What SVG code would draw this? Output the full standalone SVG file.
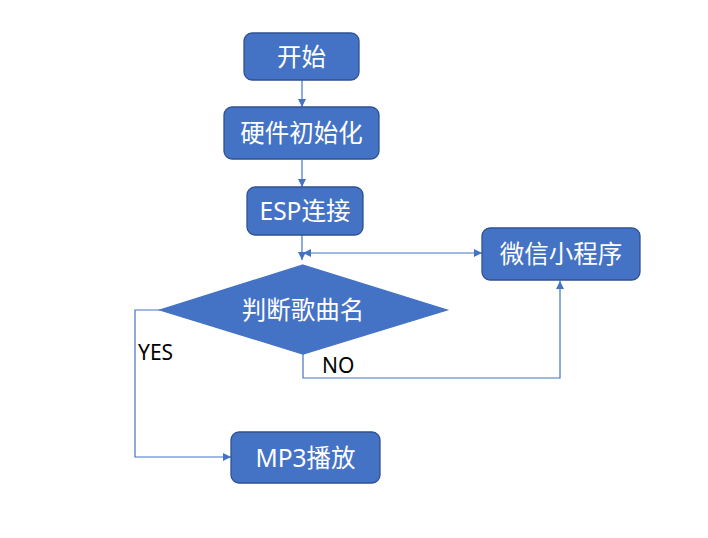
<svg xmlns="http://www.w3.org/2000/svg" width="708" height="538" viewBox="0 0 708 538">
<defs>
<style>
.box{fill:#4472C4;stroke:#2F528F;stroke-width:1.3}
.t{fill:#ffffff;font-family:"Noto Sans","Noto Sans CJK SC",sans-serif;font-size:24.5px;text-anchor:middle}
.lbl{fill:#000000;font-family:"Noto Sans","Noto Sans CJK SC",sans-serif;font-size:21px}
.ln{fill:none;stroke:#4472C4;stroke-width:1.2}
</style>
<marker id="ah" viewBox="0 0 10 10" refX="10" refY="5" markerWidth="8" markerHeight="8" markerUnits="userSpaceOnUse" orient="auto-start-reverse">
<path d="M0,0 L10,5 L0,10 z" fill="#4472C4"/>
</marker>
</defs>
<rect width="708" height="538" fill="#ffffff"/>
<g id="connectors">
<line class="ln" x1="302" y1="80" x2="302" y2="107" marker-end="url(#ah)"/>
<line class="ln" x1="302" y1="160" x2="302" y2="187" marker-end="url(#ah)"/>
<line class="ln" x1="302" y1="235" x2="302" y2="260" marker-end="url(#ah)"/>
<line class="ln" x1="303" y1="253" x2="482" y2="253" marker-start="url(#ah)" marker-end="url(#ah)"/>
<polyline class="ln" points="160,310 135,310 135,457 231,457" marker-end="url(#ah)"/>
<polyline class="ln" points="303,354 303,378 560,378 560,281" marker-end="url(#ah)"/>
</g>
<g id="start">
<rect class="box" x="244" y="33" width="115" height="47" rx="8"/>
<text class="t" x="301.5" y="65.5">开始</text>
</g>
<g id="init">
<rect class="box" x="224" y="107" width="155" height="52" rx="8"/>
<text class="t" x="301.5" y="142">硬件初始化</text>
</g>
<g id="esp">
<rect class="box" x="247" y="187" width="116" height="48" rx="8"/>
<text class="t" x="305" y="220">ESP连接</text>
</g>
<g id="wechat">
<rect class="box" x="482" y="228" width="158" height="52" rx="8"/>
<text class="t" x="561" y="263">微信小程序</text>
</g>
<g id="decision">
<polygon class="box" points="303,265 447,310 303,354 160,310" style="stroke:#4472C4"/>
<text class="t" x="303" y="319">判断歌曲名</text>
</g>
<g id="mp3">
<rect class="box" x="231" y="432" width="149" height="51" rx="8"/>
<text class="t" x="305.5" y="466.5">MP3播放</text>
</g>
<g id="labels">
<text class="lbl" x="138" y="360">YES</text>
<text class="lbl" x="322" y="373">NO</text>
</g>
</svg>
